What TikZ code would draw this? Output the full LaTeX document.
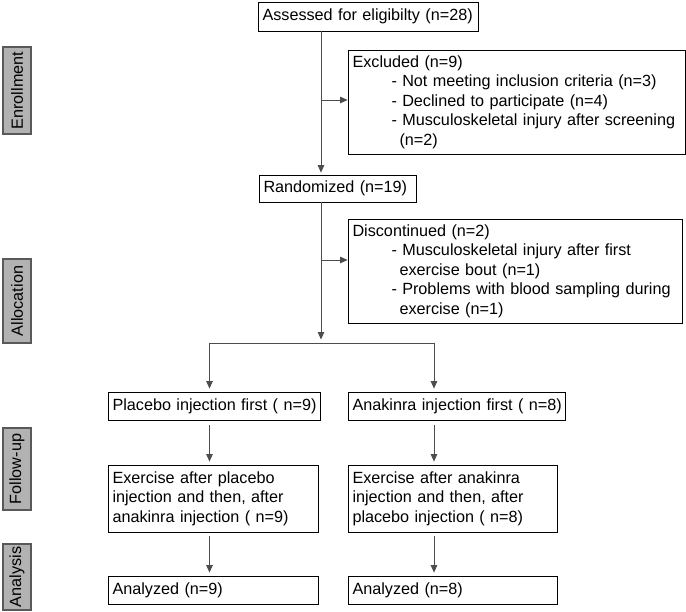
\documentclass[tikz,border=0pt]{standalone}
\usepackage{fontspec}
\setmainfont{Liberation Sans}
\usetikzlibrary{arrows.meta}
\begin{document}
\begin{tikzpicture}[x=1pt,y=-1pt,
  box/.style={draw=black, line width=0.8pt, inner xsep=4.5pt, inner ysep=0pt, align=left,
    font=\fontsize{16.2}{19.5}\selectfont},
  phase/.style={draw=black!65, fill=black!30, line width=1.2pt, rotate=90, inner sep=0pt,
    minimum height=28pt, font=\fontsize{16.2}{19}\selectfont},
  conn/.style={draw=black!70, line width=0.8pt, -{Triangle[width=6.5pt,length=7.5pt]}},
  plainline/.style={draw=black!70, line width=0.8pt}]
\useasboundingbox (0,0) rectangle (686,611);

% phase labels
\node[phase, minimum width=87pt] (enr) at (17,90.5) {Enrollment};
\node[phase, minimum width=84pt] (alc) at (17,301) {Allocation};
\node[phase, minimum width=82pt] (fol) at (17,469) {Follow-up};
\node[phase, minimum width=66pt] (ana) at (17,577) {Analysis};

% boxes
\node[box, minimum width=220pt, minimum height=29pt, text width=211pt] (assess) at (368,16.5)
  {\mbox{Assessed for eligibilty (n=28)}};
\node[box, minimum width=337pt, minimum height=104pt, text width=328pt] (excl) at (516.5,102)
  {\mbox{Excluded (n=9)}\\
   \mbox{\hspace*{39pt}- Not meeting inclusion criteria (n=3)}\\
   \mbox{\hspace*{39pt}- Declined to participate (n=4)}\\
   \mbox{\hspace*{39pt}- Musculoskeletal injury after screening}\\
   \mbox{\hspace*{47pt}(n=2)}};
\node[box, minimum width=157pt, minimum height=27pt, text width=148pt] (rand) at (337.5,188.5)
  {\mbox{Randomized (n=19)}};
\node[box, minimum width=334pt, minimum height=104pt, text width=325pt] (disc) at (515,271)
  {\mbox{Discontinued (n=2)}\\
   \mbox{\hspace*{39pt}- Musculoskeletal injury after first}\\
   \mbox{\hspace*{47pt}exercise bout (n=1)}\\
   \mbox{\hspace*{39pt}- Problems with blood sampling during}\\
   \mbox{\hspace*{47pt}exercise (n=1)}};
\node[box, minimum width=212pt, minimum height=28pt, text width=203pt] (plac) at (214,406)
  {\mbox{Placebo injection first ( n=9)}};
\node[box, minimum width=217pt, minimum height=28pt, text width=208pt] (anak) at (456.5,406)
  {\mbox{Anakinra injection first ( n=8)}};
\node[box, minimum width=210pt, minimum height=67pt, text width=201pt] (ex1) at (213,498.5)
  {\mbox{Exercise after placebo}\\\mbox{injection and then, after}\\\mbox{anakinra injection ( n=9)}};
\node[box, minimum width=209pt, minimum height=67pt, text width=200pt] (ex2) at (452.5,498.5)
  {\mbox{Exercise after anakinra}\\\mbox{injection and then, after}\\\mbox{placebo injection ( n=8)}};
\node[box, minimum width=210pt, minimum height=28pt, text width=201pt] (an1) at (213,590)
  {\mbox{Analyzed (n=9)}};
\node[box, minimum width=209pt, minimum height=28pt, text width=200pt] (an2) at (452.5,590)
  {\mbox{Analyzed (n=8)}};

% connectors
\coordinate (t) at (321,0);
\coordinate (exw) at ([yshift=2pt]excl.west);
\coordinate (dcw) at ([yshift=11pt]disc.west);
\coordinate (split) at (321,343);
\coordinate (sl) at (209.5,343);
\coordinate (sr) at (434,343);

\draw[conn, shorten >=2pt] (assess.south -| t) -- (rand.north -| t);
\draw[conn] (t |- exw) -- (exw);
\draw[conn, shorten >=3.5pt] (rand.south -| t) -- (split);
\draw[conn] (t |- dcw) -- (dcw);
\draw[plainline] (sl) -- (sr);
\draw[conn, shorten >=3pt] (sl) -- (sl |- plac.north);
\draw[conn, shorten >=3pt] (sr) -- (sr |- anak.north);
\draw[conn, shorten <=5pt, shorten >=3pt] (plac.south -| sl) -- (ex1.north -| sl);
\draw[conn, shorten <=5pt, shorten >=3pt] (anak.south -| sr) -- (ex2.north -| sr);
\draw[conn, shorten <=4pt, shorten >=3pt] (ex1.south -| sl) -- (an1.north -| sl);
\draw[conn, shorten <=4pt, shorten >=3pt] (ex2.south -| sr) -- (an2.north -| sr);
\end{tikzpicture}
\end{document}
